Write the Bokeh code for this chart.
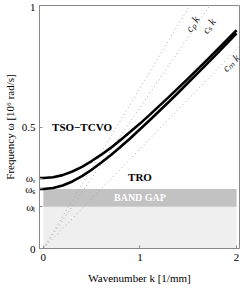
from bokeh.plotting import figure
from bokeh.models import FixedTicker, Range1d, ColumnDataSource
from bokeh.core.properties import value
from bokeh.embed import file_html
from bokeh.resources import INLINE

# ---- data ----
omega_r = 0.29
omega_s = 0.245
omega_l = 0.172

k_vals = [-0.04, 0.0, 0.1, 0.2, 0.3, 0.4, 0.5, 0.6, 0.7, 0.8, 0.9, 1.0,
          1.1, 1.2, 1.3, 1.4, 1.5, 1.6, 1.7, 1.8, 1.9, 2.0]
tso_tcvo = [0.290, 0.290, 0.293, 0.302, 0.317, 0.336, 0.360, 0.386, 0.415,
            0.447, 0.480, 0.514, 0.550, 0.587, 0.624, 0.662, 0.700, 0.739,
            0.778, 0.818, 0.858, 0.898]
tro = [0.245, 0.245, 0.249, 0.259, 0.276, 0.298, 0.324, 0.354, 0.385,
       0.419, 0.454, 0.491, 0.528, 0.566, 0.604, 0.643, 0.683, 0.723,
       0.763, 0.803, 0.844, 0.885]

ray_names = ["cₚ k", "cₛ k", "cₘ k"]
ray_slopes = [0.66, 0.58, 0.41]
ray_label_k = [1.54, 1.71, 1.94]
ray_label_w = [0.924, 0.916, 0.764]
ray_label_angle = [58, 55, 45]

band_bottom = [0.0, omega_l]
band_top = [omega_l, omega_s]
band_colors = ["#efefef", "#c2c2c2"]

y_ticks = [0, omega_l, omega_s, omega_r, 0.5, 1]
y_tick_labels = ["0", "ωₗ", "ωₛ", "ωᵣ", "0.5", "1"]
x_ticks = [0, 1, 2]

SERIF = "Liberation Serif"

p = figure(width=241, height=286, output_backend="svg", toolbar_location=None,
           x_range=Range1d(-0.04, 2.03), y_range=Range1d(0, 1.0),
           min_border_left=32, min_border_right=2, min_border_top=5,
           min_border_bottom=38)
p.grid.visible = False
p.outline_line_color = "#888888"
p.background_fill_color = "white"
p.border_fill_color = "white"

# shaded regions
p.quad(left=[0, 0], right=[2, 2], bottom=band_bottom, top=band_top,
       fill_color=band_colors, line_color=None)

# rays c k
for s in ray_slopes:
    p.line([0, 2.03], [0, s * 2.03], line_color="#aaaaaa", line_width=1,
           line_dash="1 3")

# dispersion curves
p.line(k_vals, tso_tcvo, line_color="black", line_width=2.6)
p.line(k_vals, tro, line_color="black", line_width=2.6)

# ray labels
src = ColumnDataSource(dict(x=ray_label_k, y=ray_label_w, t=ray_names,
                            a=ray_label_angle))
p.text(x="x", y="y", text="t", angle="a", angle_units="deg", source=src,
       text_font=value(SERIF), text_font_style="italic", text_font_size="11px",
       text_color="#222222", text_align="center", text_baseline="middle")

p.text(x=[0.40], y=[0.5], text=["TSO−TCVO"], text_font=value(SERIF),
       text_font_style="bold", text_font_size="11px", text_align="center",
       text_baseline="middle", text_color="black")
p.text(x=[1.0], y=[0.296], text=["TRO"], text_font=value(SERIF),
       text_font_style="bold", text_font_size="11px", text_align="center",
       text_baseline="middle", text_color="black")
p.text(x=[1.0], y=[(omega_l + omega_s) / 2], text=["BAND GAP"],
       text_font=value(SERIF), text_font_style="bold", text_font_size="10px",
       text_align="center", text_baseline="middle", text_color="white")

# axes
p.xaxis.ticker = FixedTicker(ticks=x_ticks)
p.yaxis.ticker = FixedTicker(ticks=y_ticks)
p.yaxis.major_label_overrides = {t: l for t, l in zip(y_ticks, y_tick_labels)}
p.xaxis.axis_label = "Wavenumber k [1/mm]"
p.yaxis.axis_label = "Frequency ω [10⁶ rad/s]"
for ax in (p.xaxis, p.yaxis):
    ax.axis_line_color = "#888888"
    ax.major_tick_line_color = "#888888"
    ax.major_tick_in = 3
    ax.major_tick_out = 0
    ax.minor_tick_line_color = None
    ax.major_label_text_font = SERIF
    ax.major_label_text_font_size = "11px"
    ax.major_label_text_color = "black"
    ax.axis_label_text_font = SERIF
    ax.axis_label_text_font_size = "11px"
    ax.axis_label_text_font_style = "normal"
    ax.axis_label_text_color = "black"
p.xaxis.major_label_standoff = 5
p.xaxis.axis_label_standoff = 8
p.yaxis.major_label_standoff = 4
p.yaxis.axis_label_standoff = 3

open("out.html", "w").write(file_html(p, INLINE))
